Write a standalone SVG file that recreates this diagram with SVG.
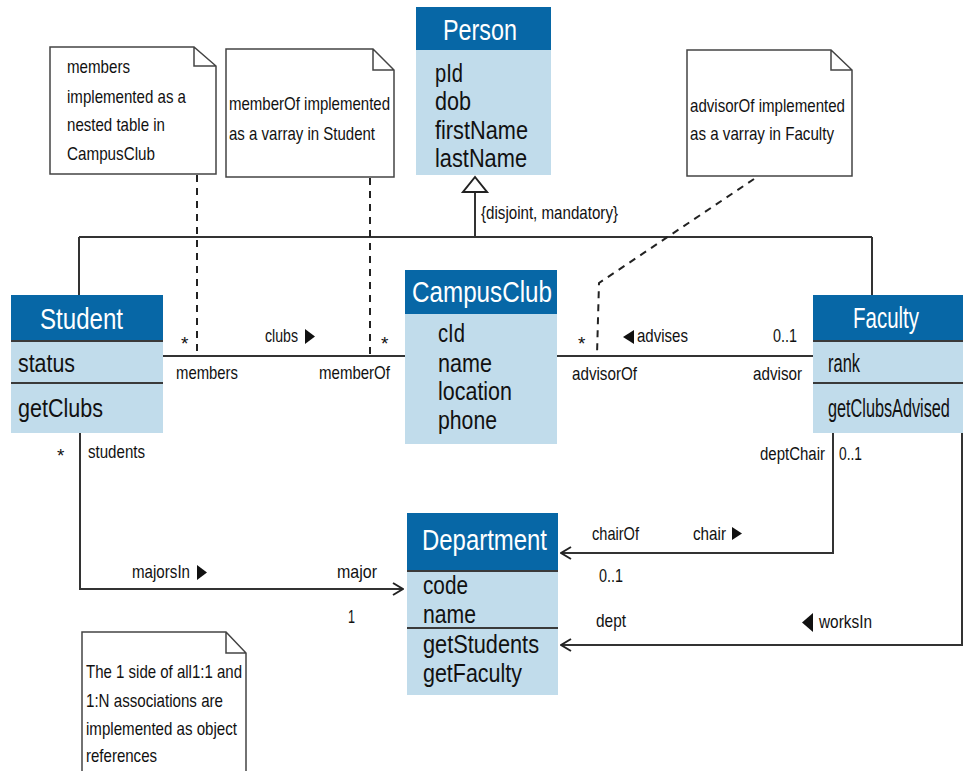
<svg xmlns="http://www.w3.org/2000/svg" width="963" height="771" viewBox="0 0 963 771">
  <style>
    text { font-family: "Liberation Sans", Arial, sans-serif; fill: #111; }
    .hdr { fill: #0767a6; }
    .body { fill: #c1dceb; }
    .htext { fill: #ffffff; font-size: 29px; }
    .attr { font-size: 26px; }
    .sep { stroke: #3a3a3a; stroke-width: 2; }
    .lbl { font-size: 19px; }
    .note { fill: #ffffff; stroke: #444; stroke-width: 1.5; }
    .ntext { font-size: 18.5px; }
    .line { fill: none; stroke: #333; stroke-width: 2; }
    .dash { fill: none; stroke: #222; stroke-width: 2; stroke-dasharray: 7 6; }
    .tri { fill: #111; }
  </style>
  <defs>
    <marker id="open" viewBox="0 0 12 14" refX="11" refY="7" markerWidth="12" markerHeight="14" markerUnits="userSpaceOnUse" orient="auto">
      <path d="M1,1 L11,7 L1,13" fill="none" stroke="#222" stroke-width="2"/>
    </marker>
  </defs>

  <!-- connectors -->
  <g id="connectors">
    <!-- generalization -->
    <path class="line" d="M475,192 V237 M79,237 H872 M79,237 V295 M872,237 V295"/>
    <polygon points="475,177 463,192 487,192" fill="#fff" stroke="#222" stroke-width="2"/>
    <!-- clubs association -->
    <path class="line" d="M163,356 H405"/>
    <!-- advises association -->
    <path class="line" d="M557,356 H813"/>
    <!-- majorsIn -->
    <path class="line" d="M80,433 V589 H403" marker-end="url(#open)"/>
    <!-- chair -->
    <path class="line" d="M833,433 V553 H561" marker-end="url(#open)"/>
    <!-- worksIn -->
    <path class="line" d="M962,433 V645 H561" marker-end="url(#open)"/>
    <!-- note anchors -->
    <path class="dash" d="M197,175 V355"/>
    <path class="dash" d="M370,178 V355"/>
    <path class="dash" d="M754,179 L599,283 L597,355"/>

    <!-- association labels -->
    <text class="lbl" x="481" y="219" textLength="137" lengthAdjust="spacingAndGlyphs">{disjoint, mandatory}</text>
    <text class="lbl" x="181" y="350">*</text>
    <text class="lbl" x="265" y="342" textLength="33" lengthAdjust="spacingAndGlyphs">clubs</text>
    <polygon class="tri" points="305,329 315,336.5 305,344"/>
    <text class="lbl" x="381" y="350">*</text>
    <text class="lbl" x="176" y="379" textLength="62" lengthAdjust="spacingAndGlyphs">members</text>
    <text class="lbl" x="319" y="379" textLength="71" lengthAdjust="spacingAndGlyphs">memberOf</text>

    <text class="lbl" x="578" y="350">*</text>
    <polygon class="tri" points="634,330 623,337 634,344"/>
    <text class="lbl" x="637" y="342" textLength="51" lengthAdjust="spacingAndGlyphs">advises</text>
    <text class="lbl" x="773" y="342" textLength="24" lengthAdjust="spacingAndGlyphs">0..1</text>
    <text class="lbl" x="572" y="380" textLength="65" lengthAdjust="spacingAndGlyphs">advisorOf</text>
    <text class="lbl" x="753" y="380" textLength="49" lengthAdjust="spacingAndGlyphs">advisor</text>

    <text class="lbl" transform="translate(760,460) scale(0.79,1)">deptChair</text>
    <text class="lbl" x="839" y="460" textLength="23" lengthAdjust="spacingAndGlyphs">0..1</text>

    <text class="lbl" x="57" y="462" font-size="13">*</text>
    <text class="lbl" x="88" y="458" textLength="57" lengthAdjust="spacingAndGlyphs">students</text>
    <text class="lbl" x="132" y="578" textLength="58" lengthAdjust="spacingAndGlyphs">majorsIn</text>
    <polygon class="tri" points="197,565 207,572.5 197,580"/>
    <text class="lbl" x="337" y="578" textLength="40" lengthAdjust="spacingAndGlyphs">major</text>
    <text class="lbl" x="348" y="623" textLength="7" lengthAdjust="spacingAndGlyphs">1</text>

    <text class="lbl" x="592" y="540" textLength="47" lengthAdjust="spacingAndGlyphs">chairOf</text>
    <text class="lbl" x="693" y="540" textLength="33" lengthAdjust="spacingAndGlyphs">chair</text>
    <polygon class="tri" points="732,527 742,533.5 732,540"/>
    <text class="lbl" x="599" y="582" textLength="24" lengthAdjust="spacingAndGlyphs">0..1</text>
    <text class="lbl" x="596" y="627" textLength="30" lengthAdjust="spacingAndGlyphs">dept</text>
    <polygon class="tri" points="813,613 802,622.5 813,632"/>
    <text class="lbl" x="819" y="628" textLength="53" lengthAdjust="spacingAndGlyphs">worksIn</text>
  </g>

  <!-- Person -->
  <g id="person">
    <rect class="hdr" x="416" y="7" width="135" height="43"/>
    <rect class="body" x="416" y="50" width="135" height="125"/>
    <text class="htext" x="443" y="40" textLength="74" lengthAdjust="spacingAndGlyphs">Person</text>
    <text class="attr" x="435" y="82" textLength="28" lengthAdjust="spacingAndGlyphs">pId</text>
    <text class="attr" x="435" y="110" textLength="36" lengthAdjust="spacingAndGlyphs">dob</text>
    <text class="attr" x="435" y="139" textLength="93" lengthAdjust="spacingAndGlyphs">firstName</text>
    <text class="attr" x="435" y="167" textLength="92" lengthAdjust="spacingAndGlyphs">lastName</text>
  </g>

  <!-- Student -->
  <g id="student">
    <rect class="hdr" x="11" y="295" width="152" height="46"/>
    <rect class="body" x="11" y="341" width="152" height="92"/>
    <line class="sep" x1="11" y1="341" x2="163" y2="341"/>
    <line class="sep" x1="11" y1="383" x2="163" y2="383"/>
    <text class="htext" x="40" y="329" textLength="83" lengthAdjust="spacingAndGlyphs">Student</text>
    <text class="attr" x="18" y="372" textLength="57" lengthAdjust="spacingAndGlyphs">status</text>
    <text class="attr" x="18" y="417" textLength="85" lengthAdjust="spacingAndGlyphs">getClubs</text>
  </g>

  <!-- CampusClub -->
  <g id="campusclub">
    <rect class="hdr" x="405" y="270" width="152" height="44"/>
    <rect class="body" x="405" y="314" width="152" height="130"/>
    <text class="htext" x="412" y="302" font-size="28" textLength="140" lengthAdjust="spacingAndGlyphs">CampusClub</text>
    <text class="attr" x="438" y="342" textLength="27" lengthAdjust="spacingAndGlyphs">cId</text>
    <text class="attr" x="438" y="372" textLength="54" lengthAdjust="spacingAndGlyphs">name</text>
    <text class="attr" x="438" y="400" textLength="74" lengthAdjust="spacingAndGlyphs">location</text>
    <text class="attr" x="438" y="429" textLength="59" lengthAdjust="spacingAndGlyphs">phone</text>
  </g>

  <!-- Faculty -->
  <g id="faculty">
    <rect class="hdr" x="813" y="295" width="150" height="46"/>
    <rect class="body" x="813" y="341" width="150" height="92"/>
    <line class="sep" x1="813" y1="341" x2="963" y2="341"/>
    <line class="sep" x1="813" y1="383" x2="963" y2="383"/>
    <text class="htext" x="853" y="328" textLength="66" lengthAdjust="spacingAndGlyphs">Faculty</text>
    <text class="attr" x="828" y="372" font-size="25" textLength="32" lengthAdjust="spacingAndGlyphs">rank</text>
    <text class="attr" font-size="25" transform="translate(828,417) scale(0.625,1)">getClubsAdvised</text>
  </g>

  <!-- Department -->
  <g id="department">
    <rect class="hdr" x="407" y="513" width="151" height="58"/>
    <rect class="body" x="407" y="571" width="151" height="124"/>
    <line class="sep" x1="407" y1="571" x2="558" y2="571"/>
    <line class="sep" x1="407" y1="628" x2="558" y2="628"/>
    <text class="htext" x="422" y="550" font-size="31" textLength="125" lengthAdjust="spacingAndGlyphs">Department</text>
    <text class="attr" x="423" y="594" textLength="45" lengthAdjust="spacingAndGlyphs">code</text>
    <text class="attr" x="423" y="623" textLength="53" lengthAdjust="spacingAndGlyphs">name</text>
    <text class="attr" x="423" y="653" textLength="116" lengthAdjust="spacingAndGlyphs">getStudents</text>
    <text class="attr" x="423" y="682" textLength="99" lengthAdjust="spacingAndGlyphs">getFaculty</text>
  </g>

  <!-- notes -->
  <g id="note-members">
    <path class="note" d="M50,47 H194 L216,66 V174 H50 Z M194,47 V66 H216"/>
    <text class="ntext" x="67" y="73" textLength="63" lengthAdjust="spacingAndGlyphs">members</text>
    <text class="ntext" x="67" y="103" textLength="119" lengthAdjust="spacingAndGlyphs">implemented as a</text>
    <text class="ntext" x="67" y="131" textLength="98" lengthAdjust="spacingAndGlyphs">nested table in</text>
    <text class="ntext" x="67" y="160" textLength="88" lengthAdjust="spacingAndGlyphs">CampusClub</text>
  </g>
  <g id="note-memberof">
    <path class="note" d="M226,49 H373 L394,70 V177 H226 Z M373,49 V70 H394"/>
    <text class="ntext" x="229" y="110" textLength="161" lengthAdjust="spacingAndGlyphs">memberOf implemented</text>
    <text class="ntext" x="229" y="140" textLength="146" lengthAdjust="spacingAndGlyphs">as a varray in Student</text>
  </g>
  <g id="note-advisorof">
    <path class="note" d="M687,50 H831 L852,70 V176 H687 Z M831,50 V70 H852"/>
    <text class="ntext" x="690" y="112" textLength="155" lengthAdjust="spacingAndGlyphs">advisorOf implemented</text>
    <text class="ntext" x="690" y="140" textLength="144" lengthAdjust="spacingAndGlyphs">as a varray in Faculty</text>
  </g>
  <g id="note-references">
    <path class="note" d="M82,632 H226 L246,653 V775 H82 Z M226,632 V653 H246"/>
    <text class="ntext" x="86" y="678" textLength="156" lengthAdjust="spacingAndGlyphs">The 1 side of all1:1 and</text>
    <text class="ntext" x="86" y="707" textLength="137" lengthAdjust="spacingAndGlyphs">1:N associations are</text>
    <text class="ntext" x="86" y="735" textLength="151" lengthAdjust="spacingAndGlyphs">implemented as object</text>
    <text class="ntext" x="86" y="762" textLength="71" lengthAdjust="spacingAndGlyphs">references</text>
  </g>
</svg>
